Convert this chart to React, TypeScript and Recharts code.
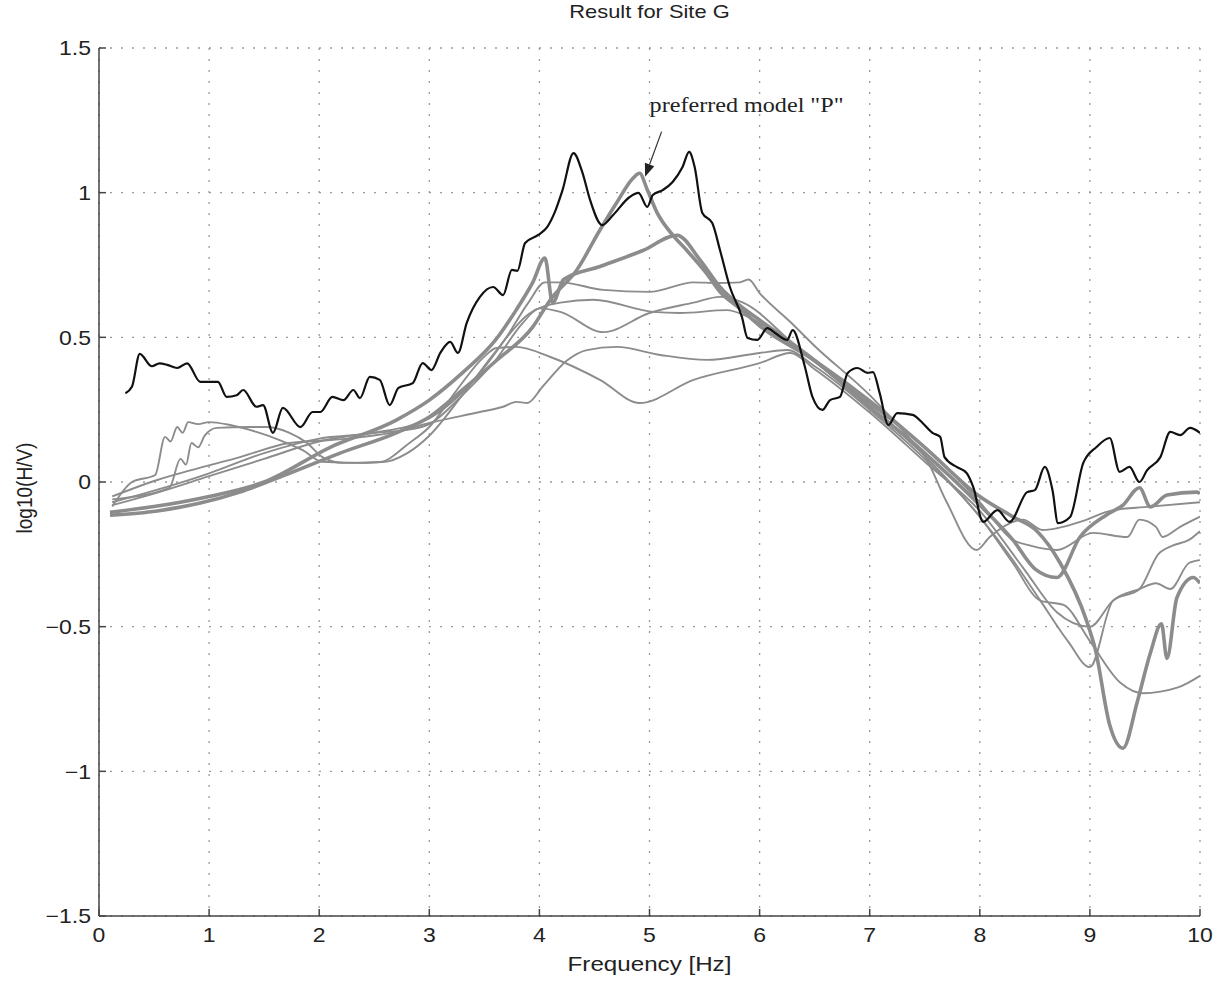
import React from 'react';
import { LineChart, Line, XAxis, YAxis, CartesianGrid, ReferenceLine } from 'recharts';

// x ticks and y ticks
const X_TICKS = [0, 1, 2, 3, 4, 5, 6, 7, 8, 9, 10];
const Y_TICKS = [-1.5, -1, -0.5, 0, 0.5, 1, 1.5];

// observed H/V ratio (black)
const observed: [number, number][] = [
  [0.24, 0.307], [0.3, 0.33], [0.37, 0.443], [0.48, 0.4], [0.55, 0.41], [0.62, 0.405], [0.71, 0.394],
  [0.8, 0.41], [0.92, 0.346], [1.08, 0.346], [1.16, 0.294], [1.25, 0.3], [1.31, 0.318], [1.43, 0.26],
  [1.49, 0.266], [1.58, 0.17], [1.67, 0.256], [1.83, 0.19], [1.94, 0.242], [2.01, 0.242], [2.12, 0.294],
  [2.22, 0.283], [2.31, 0.318], [2.37, 0.29], [2.46, 0.363], [2.55, 0.353], [2.64, 0.266], [2.72, 0.325],
  [2.85, 0.342], [2.94, 0.411], [3.02, 0.387], [3.1, 0.446], [3.19, 0.484], [3.26, 0.446], [3.34, 0.55],
  [3.46, 0.64], [3.58, 0.674], [3.67, 0.646], [3.75, 0.733], [3.8, 0.73], [3.87, 0.826], [3.99, 0.854],
  [4.07, 0.881], [4.14, 0.933], [4.21, 1.009], [4.31, 1.137], [4.39, 1.07], [4.46, 0.975], [4.57, 0.888],
  [4.67, 0.923], [4.82, 0.985], [4.9, 0.999], [4.98, 0.951], [5.03, 0.992], [5.12, 1.009], [5.21, 1.037],
  [5.3, 1.089], [5.36, 1.141], [5.41, 1.089], [5.48, 0.93], [5.57, 0.895], [5.64, 0.802], [5.73, 0.674],
  [5.84, 0.57], [5.89, 0.498], [5.98, 0.491], [6.07, 0.532], [6.14, 0.515], [6.25, 0.491], [6.3, 0.525],
  [6.41, 0.4], [6.48, 0.294], [6.57, 0.249], [6.64, 0.283], [6.73, 0.294], [6.8, 0.377], [6.89, 0.394],
  [6.98, 0.377], [7.03, 0.38], [7.09, 0.308], [7.17, 0.197], [7.25, 0.238], [7.39, 0.232], [7.48, 0.204],
  [7.57, 0.17], [7.64, 0.156], [7.68, 0.086], [7.79, 0.052], [7.88, 0.031], [7.94, -0.017], [8.03, -0.138],
  [8.16, -0.097], [8.27, -0.138], [8.43, -0.035], [8.5, -0.028], [8.59, 0.052], [8.66, -0.028], [8.71, -0.142],
  [8.82, -0.121], [8.94, 0.066], [9.06, 0.121], [9.18, 0.152], [9.27, 0.035], [9.36, 0.052], [9.45, 0.0],
  [9.52, 0.041], [9.64, 0.086], [9.73, 0.173], [9.82, 0.162], [9.91, 0.187], [10, 0.17],
];

// preferred model "P" (thick)
const modelP: [number, number][] = [
  [0.1, -0.115], [0.53, -0.1], [0.92, -0.073], [1.28, -0.035], [1.73, 0.03], [2.19, 0.1], [2.7, 0.17],
  [3.0, 0.225], [3.3, 0.318], [3.61, 0.42], [3.94, 0.536], [4.1, 0.63], [4.34, 0.733], [4.55, 0.871],
  [4.7, 0.964], [4.85, 1.05], [4.91, 1.067], [4.98, 1.01], [5.07, 0.93], [5.21, 0.854], [5.34, 0.8],
  [5.52, 0.72], [5.64, 0.657], [5.82, 0.6], [6.0, 0.54], [6.5, 0.42], [7.0, 0.28], [7.5, 0.12],
  [8.0, -0.05], [8.3, -0.12], [8.52, -0.17], [8.73, -0.28], [8.97, -0.48], [9.05, -0.58], [9.18, -0.84],
  [9.3, -0.92], [9.43, -0.76], [9.55, -0.59], [9.65, -0.49], [9.7, -0.61], [9.79, -0.4], [9.94, -0.33],
  [10, -0.35],
];

// second thick model (spike near 4 Hz)
const modelC: [number, number][] = [
  [0.1, -0.105], [0.5, -0.085], [1.0, -0.05], [1.5, 0.0], [2.1, 0.12], [2.7, 0.214], [3.0, 0.283],
  [3.3, 0.377], [3.6, 0.49], [3.79, 0.595], [3.94, 0.69], [4.05, 0.774], [4.12, 0.62], [4.22, 0.7],
  [4.55, 0.745], [4.94, 0.8], [5.25, 0.853], [5.46, 0.767], [5.64, 0.674], [5.82, 0.61], [6.0, 0.56],
  [6.5, 0.42], [7.0, 0.26], [7.5, 0.1], [8.0, -0.08], [8.3, -0.2], [8.5, -0.3], [8.7, -0.33],
  [8.91, -0.19], [9.15, -0.114], [9.3, -0.08], [9.45, -0.02], [9.55, -0.086], [9.7, -0.045],
  [9.97, -0.035], [10, -0.04],
];

// thin models
const modelM1: [number, number][] = [
  [0.12, -0.07], [0.5, -0.03], [1.0, 0.03], [1.5, 0.1], [2.0, 0.15], [2.5, 0.17], [3.0, 0.22],
  [3.4, 0.35], [3.7, 0.5], [3.9, 0.62], [4.05, 0.69], [4.19, 0.69], [4.58, 0.664], [5.0, 0.657],
  [5.4, 0.69], [5.61, 0.688], [5.82, 0.69], [5.9, 0.7], [6.0, 0.653], [6.28, 0.553], [6.5, 0.47],
  [7.0, 0.3], [7.34, 0.16], [7.5, 0.09], [7.7, -0.07], [7.97, -0.235], [8.09, -0.19], [8.39, -0.13],
  [8.57, -0.166], [8.7, -0.16], [8.91, -0.138], [9.21, -0.097], [9.52, -0.086], [10, -0.07],
];

const modelM2: [number, number][] = [
  [0.12, -0.06], [0.64, -0.02], [0.74, 0.08], [0.79, 0.06], [0.84, 0.135], [0.9, 0.12], [0.96, 0.16],
  [1.07, 0.187], [1.37, 0.19], [1.52, 0.19], [1.73, 0.17], [1.89, 0.135], [2.03, 0.086], [2.22, 0.066],
  [2.58, 0.069], [2.8, 0.1], [3.0, 0.16], [3.3, 0.3], [3.6, 0.45], [3.9, 0.58], [4.19, 0.62],
  [4.49, 0.63], [5.03, 0.588], [5.28, 0.584], [5.7, 0.594], [5.9, 0.57], [6.3, 0.47], [7.0, 0.27],
  [7.5, 0.12], [8.0, -0.07], [8.3, -0.2], [8.46, -0.22], [8.7, -0.235], [9.03, -0.176], [9.34, -0.19],
  [9.45, -0.13], [9.6, -0.155], [9.66, -0.19], [9.82, -0.155], [10, -0.12],
];

const modelM3: [number, number][] = [
  [0.12, -0.08], [0.5, -0.04], [1.0, 0.02], [1.5, 0.08], [2.0, 0.14], [2.5, 0.17], [2.8, 0.18],
  [3.0, 0.2], [3.3, 0.3], [3.6, 0.42], [3.85, 0.55], [4.0, 0.6], [4.19, 0.588], [4.58, 0.518],
  [5.0, 0.584], [5.4, 0.62], [5.64, 0.64], [5.85, 0.62], [6.3, 0.48], [7.0, 0.26], [7.5, 0.09],
  [8.0, -0.12], [8.3, -0.27], [8.55, -0.41], [8.8, -0.55], [9.0, -0.64], [9.21, -0.41], [9.45, -0.37],
  [9.6, -0.35], [9.73, -0.37], [9.9, -0.28], [10, -0.27],
];

const modelM4: [number, number][] = [
  [0.12, -0.05], [0.53, 0.007], [0.83, 0.04], [1.28, 0.086], [1.73, 0.135], [2.1, 0.145], [2.4, 0.156],
  [2.7, 0.173], [3.0, 0.204], [3.46, 0.242], [3.67, 0.26], [3.79, 0.277], [3.89, 0.273], [4.03, 0.33],
  [4.25, 0.42], [4.43, 0.456], [4.7, 0.467], [5.1, 0.439], [5.52, 0.422], [6.0, 0.446], [6.25, 0.456],
  [6.5, 0.4], [7.0, 0.25], [7.5, 0.08], [8.0, -0.12], [8.3, -0.28], [8.55, -0.41], [8.76, -0.425],
  [9.0, -0.55], [9.28, -0.695], [9.48, -0.73], [9.8, -0.71], [10, -0.67],
];

const modelM5: [number, number][] = [
  [0.12, -0.085], [0.3, 0.0], [0.51, 0.024], [0.6, 0.156], [0.65, 0.14], [0.71, 0.19], [0.76, 0.17],
  [0.81, 0.207], [0.9, 0.2], [1.0, 0.207], [1.19, 0.197], [1.43, 0.173], [1.64, 0.145], [1.85, 0.11],
  [2.03, 0.07], [2.34, 0.066], [2.55, 0.069], [2.82, 0.135], [3.0, 0.19], [3.25, 0.318], [3.49, 0.43],
  [3.61, 0.463], [3.79, 0.467], [4.1, 0.432], [4.55, 0.353], [4.91, 0.273], [5.4, 0.353], [6.0, 0.411],
  [6.28, 0.446], [6.5, 0.39], [7.0, 0.24], [7.5, 0.07], [8.0, -0.1], [8.4, -0.3], [8.7, -0.45],
  [9.0, -0.5], [9.21, -0.41], [9.45, -0.37], [9.62, -0.25], [9.75, -0.22], [9.9, -0.2], [10, -0.17],
];

const toRows = (pts: [number, number][]) => pts.map(([f, v]) => ({ f, v }));

const GRAY = '#8c8c8c';
const FONT = '"Liberation Sans", Arial, Helvetica, sans-serif';
const SERIF = '"Liberation Serif", "Times New Roman", serif';
// the original figure is stretched sideways, so text is a bit wider than tall
const SX = 1.15;

const thinModels = [modelM1, modelM2, modelM3, modelM4, modelM5];
const thickModels = [modelC, modelP];

const fmtY = (v: number) => (v < 0 ? `\u2212${Math.abs(v)}` : `${v}`);

const stretch = (x: number, y: number) => `translate(${x} ${y}) scale(${SX} 1) translate(${-x} ${-y})`;

const XTick = (props: any) => {
  const { x, y, payload } = props;
  return (
    <text x={x} y={y} dy="0.72em" textAnchor="middle" fontFamily={FONT} fontSize={20} fill="#222" transform={stretch(x, y)}>
      {payload.value}
    </text>
  );
};

const YTick = (props: any) => {
  const { x, y, payload } = props;
  return (
    <text x={x} y={y} dy="0.36em" textAnchor="end" fontFamily={FONT} fontSize={20} fill="#222" transform={stretch(x, y)}>
      {fmtY(payload.value)}
    </text>
  );
};

// arrow + label for the preferred model
const ArrowShape = (props: any) => {
  const { x1, y1, x2, y2 } = props;
  if (x1 == null) return null;
  const ang = Math.atan2(y2 - y1, x2 - x1);
  const L = 13;
  const W = 5;
  const bx = x2 - L * Math.cos(ang);
  const by = y2 - L * Math.sin(ang);
  const px = -Math.sin(ang) * W;
  const py = Math.cos(ang) * W;
  const tx = x1 - 12;
  const ty = y1 - 20;
  return (
    <g>
      <line x1={x1} y1={y1} x2={bx} y2={by} stroke="#333" strokeWidth={1.2} />
      <polygon points={`${x2},${y2} ${bx + px},${by + py} ${bx - px},${by - py}`} fill="#222" />
      <text x={tx} y={ty} fontFamily={SERIF} fontSize={21} fill="#222" transform={stretch(tx, ty)}>
        preferred model "P"
      </text>
    </g>
  );
};

export default function App() {
  return (
    <div style={{ position: 'absolute', left: 0, top: 0, width: 1224, height: 981, background: '#fff' }}>
      <div
        style={{
          position: 'absolute', left: 0, width: 1299, top: 1, textAlign: 'center', fontFamily: FONT,
          fontSize: 19, color: '#222', transform: `scaleX(${SX})`, transformOrigin: '649.5px 0',
        }}
      >
        Result for Site G
      </div>
      <div
        style={{
          position: 'absolute', left: 25, top: 488, fontFamily: FONT, fontSize: 19, color: '#222',
          transform: `translate(-50%, -50%) rotate(-90deg) scaleY(${SX})`, whiteSpace: 'nowrap',
        }}
      >
        log10(H/V)
      </div>
      <div
        style={{
          position: 'absolute', left: 0, width: 1299, top: 952, textAlign: 'center', fontFamily: FONT,
          fontSize: 21, color: '#222', transform: `scaleX(${SX})`, transformOrigin: '649.5px 0',
        }}
      >
        Frequency [Hz]
      </div>
      <LineChart width={1224} height={981} margin={{ top: 48, right: 24, bottom: 0, left: 39 }}>
        <CartesianGrid stroke="#9a9a9a" strokeWidth={1.3} strokeDasharray="2 9" />
        <XAxis
          dataKey="f"
          type="number"
          domain={[0, 10]}
          ticks={X_TICKS}
          allowDataOverflow
          height={65}
          tickSize={-7}
          tickMargin={19}
          stroke="#444"
          strokeWidth={1.5}
          tick={<XTick />}
        />
        <YAxis
          type="number"
          domain={[-1.5, 1.5]}
          ticks={Y_TICKS}
          allowDataOverflow
          width={60}
          tickSize={-7}
          tickMargin={15}
          stroke="#444"
          strokeWidth={1.5}
          tick={<YTick />}
        />
        {thinModels.map((m, i) => (
          <Line
            key={`thin-${i}`}
            data={toRows(m)}
            dataKey="v"
            type="monotone"
            stroke={GRAY}
            strokeWidth={1.9}
            dot={false}
            isAnimationActive={false}
          />
        ))}
        {thickModels.map((m, i) => (
          <Line
            key={`thick-${i}`}
            data={toRows(m)}
            dataKey="v"
            type="monotone"
            stroke={GRAY}
            strokeWidth={3.6}
            dot={false}
            isAnimationActive={false}
          />
        ))}
        <Line
          data={toRows(observed)}
          dataKey="v"
          type="monotone"
          stroke="#111"
          strokeWidth={2.2}
          dot={false}
          isAnimationActive={false}
        />
        <ReferenceLine
          segment={[{ x: 5.11, y: 1.211 }, { x: 4.96, y: 1.055 }]}
          shape={ArrowShape}
          ifOverflow="visible"
        />
      </LineChart>
    </div>
  );
}
